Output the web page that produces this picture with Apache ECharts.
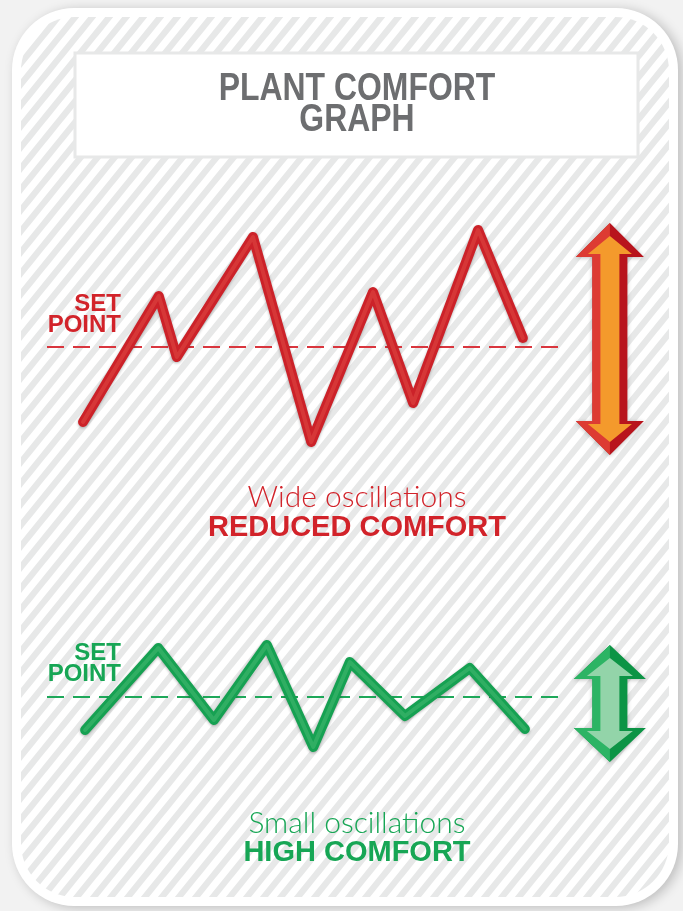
<!DOCTYPE html>
<html>
<head>
<meta charset="utf-8">
<title>Plant Comfort Graph</title>
<script src="https://cdn.jsdelivr.net/npm/echarts@6/dist/echarts.min.js"></script>
<style>
  html, body { margin: 0; padding: 0; background: #f2f2f2; }
  #chart { width: 683px; height: 911px; }
</style>
</head>
<body>
<div id="chart"></div>
<script>
// Time axis runs 0..100, deviation from the set point in tenths of a unit.
const redTime = [7.0, 21.7, 25.2, 40.0, 51.3, 63.3, 71.1, 83.7, 92.4];
const redDeviation = [-7.5, 5.1, -1.0, 11.0, -9.5, 5.5, -5.6, 11.7, 0.9];
const greenTime = [7.4, 21.6, 32.4, 42.7, 51.7, 58.8, 69.5, 82.1, 92.8];
const greenDeviation = [-3.3, 4.9, -2.3, 5.2, -5.0, 3.5, -1.9, 2.9, -3.2];
const setPointSpan = [0, 100];
const setPointValue = 0;
// Range arrows: [upper end, lower end] of each swing, drawn past the time axis end.
const redSwing = [12.4, -10.8];
const greenSwing = [5.2, -6.5];
const swingTime = 109.3;

const titleLines = ['PLANT COMFORT', 'GRAPH'];
const setPointText = 'SET\nPOINT';
const redCaption = ['Wide oscillations', 'REDUCED COMFORT'];
const greenCaption = ['Small oscillations', 'HIGH COMFORT'];

const RED = '#d2232a';
const GREEN = '#17a655';
const GREY = '#6d6e70';

// Diagonal stripe tile for the card background
function stripeTile() {
  const w = 17, h = 21, b = 8;
  const c = document.createElement('canvas');
  c.width = w; c.height = h;
  const ctx = c.getContext('2d');
  ctx.fillStyle = '#ffffff';
  ctx.fillRect(0, 0, w, h);
  ctx.fillStyle = '#e7e8e8';
  for (let k = -1; k <= 1; k++) {
    ctx.beginPath();
    ctx.moveTo(k * w, h);
    ctx.lineTo(k * w + b, h);
    ctx.lineTo(k * w + b + w, 0);
    ctx.lineTo(k * w + w, 0);
    ctx.closePath();
    ctx.fill();
  }
  return c;
}

function zip(xs, ys) { return xs.map((x, i) => [x, ys[i]]); }

function arrowRenderer(colors, dims) {
  return function (params, api) {
    const top = api.coord([api.value(0), api.value(1)]);
    const bot = api.coord([api.value(0), api.value(2)]);
    const cx = top[0], t = top[1], b = bot[1];
    const hw = dims.hw, hh = dims.hh, sw = dims.sw, iw = dims.iw, ihw = dims.ihw;
    const outer = [[cx, t], [cx + hw, t + hh], [cx + sw, t + hh], [cx + sw, b - hh], [cx + hw, b - hh],
      [cx, b], [cx - hw, b - hh], [cx - sw, b - hh], [cx - sw, t + hh], [cx - hw, t + hh]];
    const left = [[cx, t], [cx, b], [cx - hw, b - hh], [cx - sw, b - hh], [cx - sw, t + hh], [cx - hw, t + hh]];
    const it = t + 13, ib = b - 13, ihb = t + hh - 3, ihb2 = b - hh + 3;
    const inner = [[cx, it], [cx + ihw, ihb], [cx + iw, ihb], [cx + iw, ihb2], [cx + ihw, ihb2],
      [cx, ib], [cx - ihw, ihb2], [cx - iw, ihb2], [cx - iw, ihb], [cx - ihw, ihb]];
    return {
      type: 'group',
      children: [
        { type: 'polygon', shape: { points: outer },
          style: { fill: colors.dark, shadowBlur: 4, shadowColor: 'rgba(0,0,0,0.25)', shadowOffsetY: 1 } },
        { type: 'polygon', shape: { points: left }, style: { fill: colors.light } },
        { type: 'polygon', shape: { points: inner }, style: { fill: colors.core } }
      ]
    };
  };
}

const chart = echarts.init(document.getElementById('chart'), null, { renderer: 'canvas' });

const axisOff = { show: false };
const lineBase = (data, color, grid) => ({
  type: 'line', xAxisIndex: grid, yAxisIndex: grid, data: data, symbol: 'none', silent: true, z: 5,
  lineStyle: { color: color, width: 10, cap: 'round', join: 'round',
    shadowBlur: 3, shadowColor: 'rgba(0,0,0,0.3)', shadowOffsetY: 1 }
});
const lineGloss = (data, color, grid) => ({
  type: 'line', xAxisIndex: grid, yAxisIndex: grid, data: data, symbol: 'none', silent: true, z: 6,
  lineStyle: { color: color, width: 4, cap: 'round', join: 'round' }
});
const setLine = (color, grid) => ({
  type: 'line', xAxisIndex: grid, yAxisIndex: grid, symbol: 'none', silent: true, z: 3,
  data: setPointSpan.map(x => [x, setPointValue]),
  lineStyle: { color: color, width: 2, type: [17, 9] }
});

// Condensed heading: regular bold face squeezed horizontally
const heading = (text, y) => ({
  type: 'text', z: 10, x: 357, y: y, scaleX: 0.84, scaleY: 1,
  style: { text: text, x: 0, y: 0, align: 'center', verticalAlign: 'middle', fill: GREY,
    font: 'bold 38px "Liberation Sans", Arial, sans-serif' }
});
const label = (text, x, y, color, font, extra) => ({
  type: 'text', z: 10,
  style: Object.assign({ text: text, x: x, y: y, align: 'center', verticalAlign: 'middle', fill: color, font: font }, extra || {})
});
const LIGHT = '300 30px Lato, "Liberation Sans", sans-serif';
const BOLD = 'bold 29px "Liberation Sans", Arial, sans-serif';
const SETFONT = 'bold 24px "Liberation Sans", Arial, sans-serif';

const option = {
  backgroundColor: '#f2f2f2',
  animation: false,
  grid: [
    { left: 47, right: 121, top: 197, height: 300 },
    { left: 47, right: 121, top: 547, height: 300 }
  ],
  xAxis: [
    { type: 'value', min: 0, max: 100, gridIndex: 0, ...axisOff },
    { type: 'value', min: 0, max: 100, gridIndex: 1, ...axisOff }
  ],
  yAxis: [
    { type: 'value', min: -15, max: 15, gridIndex: 0, ...axisOff },
    { type: 'value', min: -15, max: 15, gridIndex: 1, ...axisOff }
  ],
  graphic: [
    { type: 'rect', z: -10, shape: { x: 12, y: 8, width: 666, height: 898, r: 62 },
      style: { fill: '#ffffff', shadowBlur: 12, shadowColor: 'rgba(0,0,0,0.22)', shadowOffsetX: 4, shadowOffsetY: 2 } },
    { type: 'rect', z: -9, shape: { x: 21, y: 17, width: 648, height: 880, r: 54 },
      style: { fill: { image: stripeTile(), repeat: 'repeat' } } },
    { type: 'rect', z: -8, shape: { x: 75, y: 53, width: 563, height: 104 },
      style: { fill: '#ffffff', stroke: '#e7e8e8', lineWidth: 3 } },
    heading(titleLines[0], 90),
    heading(titleLines[1], 121),
    label(setPointText, 121, 315, RED, SETFONT, { align: 'right', lineHeight: 21 }),
    label(setPointText, 121, 664, GREEN, SETFONT, { align: 'right', lineHeight: 21 }),
    label(redCaption[0], 357, 497, RED, LIGHT),
    label(redCaption[1], 357, 528, RED, BOLD),
    label(greenCaption[0], 357, 823, GREEN, LIGHT),
    label(greenCaption[1], 357, 853, GREEN, BOLD)
  ],
  series: [
    setLine('#d9363e', 0),
    lineBase(zip(redTime, redDeviation), '#cc2229', 0),
    lineGloss(zip(redTime, redDeviation), 'rgba(240,105,90,0.3)', 0),
    setLine('#1fa85a', 1),
    lineBase(zip(greenTime, greenDeviation), '#16a152', 1),
    lineGloss(zip(greenTime, greenDeviation), 'rgba(110,205,140,0.3)', 1),
    {
      type: 'custom', xAxisIndex: 0, yAxisIndex: 0, clip: false, silent: true, z: 7,
      data: [[swingTime, redSwing[0], redSwing[1]]],
      encode: { x: 0, y: [1, 2] },
      renderItem: arrowRenderer({ dark: '#b8141d', light: '#dd3b33', core: '#f49a2c' },
        { hw: 34, hh: 34, sw: 17.5, iw: 9.5, ihw: 22 })
    },
    {
      type: 'custom', xAxisIndex: 1, yAxisIndex: 1, clip: false, silent: true, z: 7,
      data: [[swingTime, greenSwing[0], greenSwing[1]]],
      encode: { x: 0, y: [1, 2] },
      renderItem: arrowRenderer({ dark: '#0c9445', light: '#2cb464', core: '#93d4a9' },
        { hw: 36, hh: 34, sw: 17.5, iw: 9.5, ihw: 23 })
    }
  ]
};

chart.setOption(option);
</script>
</body>
</html>
